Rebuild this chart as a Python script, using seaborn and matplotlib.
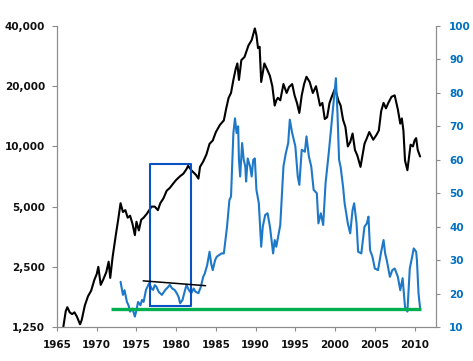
import matplotlib
matplotlib.use("Agg")
import matplotlib.pyplot as plt
from matplotlib.ticker import FixedLocator, FuncFormatter, NullLocator
import seaborn as sns
import pandas as pd

sns.set_style("white")
plt.rcParams['font.family'] = ['DejaVu Sans']

# Black series: index level (left log axis)
index_years = [1965.8, 1966.1, 1966.3, 1966.6, 1966.9, 1967.2, 1967.5, 1967.9, 1968.1, 1968.5,
               1968.9, 1969.3, 1969.7, 1970.0, 1970.2, 1970.5, 1970.8, 1971.2, 1971.5, 1971.7,
               1972.0, 1972.4, 1972.7, 1973.0, 1973.3, 1973.6, 1973.9, 1974.2, 1974.5, 1974.8,
               1975.0, 1975.3, 1975.6, 1975.9, 1976.3, 1976.6, 1976.9, 1977.3, 1977.7, 1978.0,
               1978.4, 1978.8, 1979.2, 1979.6, 1980.0, 1980.5, 1980.9, 1981.3, 1981.5, 1981.9,
               1982.2, 1982.5, 1982.8, 1983.0, 1983.4, 1983.8, 1984.2, 1984.6, 1985.0, 1985.5,
               1986.0, 1986.3, 1986.6, 1986.9, 1987.2, 1987.5, 1987.7, 1987.9, 1988.2, 1988.6,
               1989.1, 1989.5, 1989.9, 1990.1, 1990.3, 1990.5, 1990.7, 1991.1, 1991.5, 1991.8,
               1992.1, 1992.4, 1992.6, 1992.8, 1993.1, 1993.5, 1993.9, 1994.2, 1994.6, 1994.9,
               1995.2, 1995.5, 1995.8, 1996.1, 1996.4, 1996.8, 1997.2, 1997.6, 1998.1, 1998.4,
               1998.7, 1999.0, 1999.3, 1999.6, 2000.0, 2000.4, 2000.7, 2001.0, 2001.3, 2001.6,
               2001.9, 2002.2, 2002.5, 2002.8, 2003.2, 2003.4, 2003.7, 2004.0, 2004.3, 2004.8,
               2005.2, 2005.5, 2005.8, 2006.1, 2006.4, 2006.7, 2007.1, 2007.5, 2007.9, 2008.2,
               2008.4, 2008.6, 2008.8, 2009.1, 2009.3, 2009.5, 2009.8, 2010.0, 2010.2, 2010.4,
               2010.7]
index_values = [1255, 1500, 1570, 1480, 1450, 1480, 1410, 1290, 1350, 1600,
                1780, 1900, 2150, 2300, 2500, 2030, 2150, 2350, 2650, 2200,
                2800, 3600, 4300, 5200, 4700, 4800, 4400, 4500, 4100, 3600,
                4200, 3800, 4300, 4400, 4600, 4800, 5000, 5000, 4800, 5200,
                5500, 6000, 6200, 6500, 6800, 7100, 7300, 7700, 8000, 7600,
                7400, 7200, 6900, 7900, 8400, 9100, 10300, 10700, 11800, 12800,
                13500, 15500, 17500, 18500, 21500, 24500, 26000, 21500, 27000, 28000,
                32000, 34000, 38900, 36000, 31000, 31500, 21000, 26000, 24000, 22500,
                20000, 16000, 17000, 17500, 17000, 20500, 18500, 19800, 20500, 18000,
                16500, 14700, 18000, 20500, 22300, 21000, 18500, 20000, 16000, 16500,
                13700, 14000, 16500, 17800, 19500, 17000, 16000, 13600, 12500, 10000,
                10500, 11600, 9600, 9000, 7900, 8800, 10300, 11000, 11800, 10800,
                11400, 12000, 15000, 16500, 15500, 16500, 17700, 18000, 15300, 13000,
                13800, 12000, 8500, 7600, 8800, 10200, 10000, 10700, 11000, 9600,
                8900]

# Blue series: ratio (right axis)
ratio_years = [1973.0, 1973.3, 1973.5, 1973.8, 1974.0, 1974.2, 1974.5, 1974.8, 1975.0, 1975.2,
               1975.5, 1975.7, 1975.9, 1976.2, 1976.6, 1976.9, 1977.1, 1977.3, 1977.5, 1977.8,
               1978.2, 1978.6, 1979.0, 1979.2, 1979.5, 1979.8, 1980.1, 1980.3, 1980.5, 1980.8,
               1981.0, 1981.3, 1981.6, 1981.9, 1982.2, 1982.4, 1982.8, 1983.1, 1983.4, 1983.6,
               1983.9, 1984.2, 1984.4, 1984.6, 1984.9, 1985.1, 1985.4, 1985.7, 1986.0, 1986.1,
               1986.4, 1986.7, 1986.9, 1987.2, 1987.4, 1987.6, 1987.8, 1987.9, 1988.05, 1988.3,
               1988.5, 1988.7, 1988.8, 1989.0, 1989.3, 1989.5, 1989.7, 1989.9, 1990.1, 1990.4,
               1990.7, 1990.9, 1991.2, 1991.5, 1991.8, 1992.2, 1992.4, 1992.6, 1993.1, 1993.5,
               1993.8, 1994.1, 1994.3, 1994.6, 1995.0, 1995.3, 1995.5, 1995.8, 1996.2, 1996.4,
               1996.7, 1997.0, 1997.3, 1997.7, 1997.9, 1998.2, 1998.5, 1998.8, 1999.2, 1999.6,
               2000.0, 2000.1, 2000.3, 2000.5, 2000.7, 2001.0, 2001.2, 2001.6, 2001.9, 2002.2,
               2002.4, 2002.7, 2002.9, 2003.3, 2003.7, 2004.0, 2004.2, 2004.4, 2004.7, 2005.0,
               2005.4, 2005.8, 2006.1, 2006.3, 2006.5, 2006.9, 2007.2, 2007.5, 2007.9, 2008.2,
               2008.5, 2008.8, 2009.1, 2009.4, 2009.7, 2009.9, 2010.2, 2010.3, 2010.5, 2010.7]
ratio_values = [23.5, 19.6, 21.0, 17.5, 16.5, 14.6, 15.5, 13.1, 15.0, 17.5,
                16.5, 18.1, 17.5, 21.1, 23.1, 21.5, 21.1, 22.5, 22.1, 20.5,
                19.6, 21.0, 22.0, 22.6, 21.5, 21.1, 20.0, 19.0, 17.1, 18.1,
                20.0, 22.6, 21.0, 20.1, 21.5, 20.6, 20.1, 22.0, 25.0, 26.0,
                28.5, 32.5, 29.0, 27.0, 30.0, 31.0, 31.5, 32.0, 32.0, 34.0,
                40.0, 48.0, 49.0, 68.0, 72.4, 68.0, 70.0, 60.0, 55.0, 65.0,
                60.0, 58.0, 53.5, 60.4, 58.0, 55.0, 60.0, 60.4, 51.0, 47.0,
                34.0, 40.0, 43.5, 44.0, 40.0, 32.0, 36.0, 34.0, 40.5, 58.0,
                62.0, 65.0, 72.0, 68.0, 64.0, 55.0, 52.5, 63.0, 62.4, 67.0,
                61.0, 58.0, 51.0, 50.0, 41.0, 44.0, 40.5, 53.0, 62.0, 72.0,
                82.0, 84.4, 74.0, 60.0, 57.8, 52.0, 47.0, 41.0, 38.0, 45.0,
                47.0, 41.0, 32.5, 32.0, 40.0, 41.0, 43.0, 33.0, 31.0, 27.5,
                27.0, 32.5, 36.0, 32.0, 30.0, 25.0, 27.0, 27.5, 25.0, 21.0,
                24.6, 16.0, 14.6, 27.5, 31.0, 33.5, 32.5, 30.0, 20.0, 15.6]

# Annotations (right-axis units)
floor_years = [1971.75, 2010.8]
floor_levels = [15.4, 15.4]
box_years = [1976.7, 1981.85, 1981.85, 1976.7, 1976.7]
box_levels = [16.4, 16.4, 58.6, 58.6, 16.4]
trend_years = [1975.85, 1983.7]
trend_levels = [23.8, 22.35]

left_ticks = [1250, 2500, 5000, 10000, 20000, 40000]
right_ticks = [10, 20, 30, 40, 50, 60, 70, 80, 90, 100]
x_ticks = [1965, 1970, 1975, 1980, 1985, 1990, 1995, 2000, 2005, 2010]

df_index = pd.DataFrame({"year": index_years, "value": index_values})
df_ratio = pd.DataFrame({"year": ratio_years, "value": ratio_values})

W, H = 473, 361
fig = plt.figure(figsize=(W / 100, H / 100), dpi=100)
L, R, T, B = 57, 436, 26, 327
ax = fig.add_axes([L / W, 1 - B / H, (R - L) / W, (B - T) / H])
ax2 = ax.twinx()

sns.lineplot(data=df_index, x="year", y="value", ax=ax, color="black", linewidth=1.5,
             legend=False)
sns.lineplot(data=df_ratio, x="year", y="value", ax=ax2, color="#1E78C8", linewidth=1.5,
             legend=False)
ax2.plot(floor_years, floor_levels, color="#00B050", linewidth=2.4, solid_capstyle="butt")
ax2.plot(box_years, box_levels, color="#0A52C4", linewidth=1.5)
ax2.plot(trend_years, trend_levels, color="black", linewidth=1.1)

ax.set_yscale("log")
ax.set_ylim(1250, 40000)
ax.yaxis.set_major_locator(FixedLocator(left_ticks))
ax.yaxis.set_minor_locator(NullLocator())
ax.yaxis.set_major_formatter(FuncFormatter(lambda v, p: f"{int(round(v)):,}"))
ax.set_xlim(1965, 2012.7)
ax.set_xticks(x_ticks)
ax.set_xticklabels([str(t) for t in x_ticks])
ax2.set_ylim(10, 100)
ax2.set_yticks(right_ticks)
ax2.set_yticklabels([str(t) for t in right_ticks])

for a in (ax, ax2):
    a.set_xlabel("")
    a.set_ylabel("")
    a.grid(False)
    for s in a.spines.values():
        s.set_color("#8c8c8c")
        s.set_linewidth(0.8)
    a.spines["top"].set_visible(False)

ax.tick_params(axis="y", which="major", left=True, length=3.5, width=0.8, color="#8c8c8c",
               pad=5, labelsize=7.5, labelcolor="#111111")
ax.tick_params(axis="x", which="major", bottom=True, length=3, width=0.8, color="#8c8c8c",
               pad=6, labelsize=7.5, labelcolor="#111111")
ax2.tick_params(axis="y", which="major", right=True, length=3, width=0.8, color="#8c8c8c",
                pad=6.5, labelsize=7.5, labelcolor="#0070C0")
for lab in ax.get_yticklabels() + ax.get_xticklabels() + ax2.get_yticklabels():
    lab.set_fontweight("bold")

fig.savefig("out.png", dpi=100)
